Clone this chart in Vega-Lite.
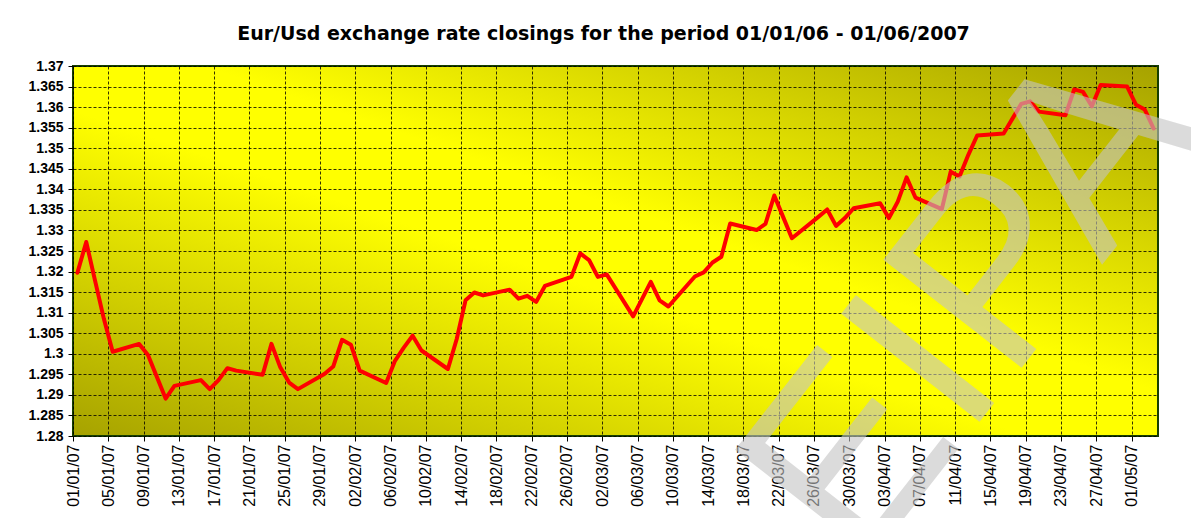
{
  "$schema": "https://vega.github.io/schema/vega-lite/v6.json",
  "autosize": "none",
  "width": 1085,
  "height": 370,
  "padding": {"left": 73, "top": 66, "right": 33, "bottom": 82},
  "background": "#ffffff",
  "title": {
    "text": "Eur/Usd exchange rate closings for the period 01/01/06 - 01/06/2007",
    "font": "DejaVu Sans",
    "fontSize": 19,
    "fontWeight": "bold",
    "color": "#000000",
    "anchor": "middle",
    "offset": -38,
    "dx": -12
  },
  "config": {
    "view": {
      "fill": {
        "gradient": "linear",
        "x1": 0, "y1": 1, "x2": 1, "y2": 0,
        "stops": [
          {"offset": 0, "color": "#a6a200"},
          {"offset": 0.44, "color": "#ffff00"},
          {"offset": 0.56, "color": "#ffff00"},
          {"offset": 1, "color": "#a6a200"}
        ]
      },
      "stroke": "#173f00",
      "strokeWidth": 2
    },
    "axis": {
      "labelFont": "Liberation Sans",
      "labelColor": "#000000",
      "labelOverlap": false,
      "labelFlush": false,
      "labelBound": false,
      "domain": false,
      "grid": true,
      "gridColor": "#000000",
      "gridDash": [3, 2],
      "gridWidth": 1,
      "gridOpacity": 0.8,
      "tickColor": "#000000",
      "tickSize": 5,
      "title": null
    }
  },
  "data": {
    "values": [
      {"date": "2007/01/01", "rate": 1.3197},
      {"date": "2007/01/02", "rate": 1.3272},
      {"date": "2007/01/03", "rate": 1.3178},
      {"date": "2007/01/04", "rate": 1.3085},
      {"date": "2007/01/05", "rate": 1.3005},
      {"date": "2007/01/08", "rate": 1.3024},
      {"date": "2007/01/09", "rate": 1.2997},
      {"date": "2007/01/10", "rate": 1.2944},
      {"date": "2007/01/11", "rate": 1.2891},
      {"date": "2007/01/12", "rate": 1.2922},
      {"date": "2007/01/15", "rate": 1.2936},
      {"date": "2007/01/16", "rate": 1.2914},
      {"date": "2007/01/17", "rate": 1.2936},
      {"date": "2007/01/18", "rate": 1.2965},
      {"date": "2007/01/19", "rate": 1.2959},
      {"date": "2007/01/22", "rate": 1.2949},
      {"date": "2007/01/23", "rate": 1.3024},
      {"date": "2007/01/24", "rate": 1.2967},
      {"date": "2007/01/25", "rate": 1.2930},
      {"date": "2007/01/26", "rate": 1.2914},
      {"date": "2007/01/29", "rate": 1.2951},
      {"date": "2007/01/30", "rate": 1.2969},
      {"date": "2007/01/31", "rate": 1.3034},
      {"date": "2007/02/01", "rate": 1.3022},
      {"date": "2007/02/02", "rate": 1.2959},
      {"date": "2007/02/05", "rate": 1.2929},
      {"date": "2007/02/06", "rate": 1.2983},
      {"date": "2007/02/07", "rate": 1.3015},
      {"date": "2007/02/08", "rate": 1.3044},
      {"date": "2007/02/09", "rate": 1.3008},
      {"date": "2007/02/12", "rate": 1.2963},
      {"date": "2007/02/13", "rate": 1.3036},
      {"date": "2007/02/14", "rate": 1.3130},
      {"date": "2007/02/15", "rate": 1.3149},
      {"date": "2007/02/16", "rate": 1.3142},
      {"date": "2007/02/19", "rate": 1.3156},
      {"date": "2007/02/20", "rate": 1.3134},
      {"date": "2007/02/21", "rate": 1.3141},
      {"date": "2007/02/22", "rate": 1.3126},
      {"date": "2007/02/23", "rate": 1.3165},
      {"date": "2007/02/26", "rate": 1.3187},
      {"date": "2007/02/27", "rate": 1.3244},
      {"date": "2007/02/28", "rate": 1.3228},
      {"date": "2007/03/01", "rate": 1.3187},
      {"date": "2007/03/02", "rate": 1.3193},
      {"date": "2007/03/05", "rate": 1.3091},
      {"date": "2007/03/06", "rate": 1.3133},
      {"date": "2007/03/07", "rate": 1.3175},
      {"date": "2007/03/08", "rate": 1.3130},
      {"date": "2007/03/09", "rate": 1.3115},
      {"date": "2007/03/12", "rate": 1.3188},
      {"date": "2007/03/13", "rate": 1.3198},
      {"date": "2007/03/14", "rate": 1.3222},
      {"date": "2007/03/15", "rate": 1.3236},
      {"date": "2007/03/16", "rate": 1.3317},
      {"date": "2007/03/19", "rate": 1.3301},
      {"date": "2007/03/20", "rate": 1.3316},
      {"date": "2007/03/21", "rate": 1.3385},
      {"date": "2007/03/22", "rate": 1.3333},
      {"date": "2007/03/23", "rate": 1.3281},
      {"date": "2007/03/26", "rate": 1.3333},
      {"date": "2007/03/27", "rate": 1.3351},
      {"date": "2007/03/28", "rate": 1.3311},
      {"date": "2007/03/29", "rate": 1.3330},
      {"date": "2007/03/30", "rate": 1.3354},
      {"date": "2007/04/02", "rate": 1.3366},
      {"date": "2007/04/03", "rate": 1.3330},
      {"date": "2007/04/04", "rate": 1.3370},
      {"date": "2007/04/05", "rate": 1.3429},
      {"date": "2007/04/06", "rate": 1.3380},
      {"date": "2007/04/09", "rate": 1.3352},
      {"date": "2007/04/10", "rate": 1.3443},
      {"date": "2007/04/11", "rate": 1.3431},
      {"date": "2007/04/12", "rate": 1.3484},
      {"date": "2007/04/13", "rate": 1.3531},
      {"date": "2007/04/16", "rate": 1.3536},
      {"date": "2007/04/17", "rate": 1.3572},
      {"date": "2007/04/18", "rate": 1.3608},
      {"date": "2007/04/19", "rate": 1.3614},
      {"date": "2007/04/20", "rate": 1.3589},
      {"date": "2007/04/23", "rate": 1.3580},
      {"date": "2007/04/24", "rate": 1.3643},
      {"date": "2007/04/25", "rate": 1.3637},
      {"date": "2007/04/26", "rate": 1.3602},
      {"date": "2007/04/27", "rate": 1.3654},
      {"date": "2007/04/30", "rate": 1.3650},
      {"date": "2007/05/01", "rate": 1.3606},
      {"date": "2007/05/02", "rate": 1.3594},
      {"date": "2007/05/03", "rate": 1.3548}
    ]
  },
  "layer": [
    {
      "mark": {"type": "line", "color": "#ff0000", "strokeWidth": 4, "strokeJoin": "round", "strokeCap": "round"},
      "encoding": {
        "x": {
          "field": "date",
          "type": "temporal",
          "timeUnit": "yearmonthdate",
          "bandPosition": 0.5,
          "scale": {
            "domain": [{"year": 2007, "month": 1, "date": 1}, {"year": 2007, "month": 5, "date": 4}],
            "nice": false
          },
          "axis": {
            "format": "%d/%m/%y",
            "labelAngle": 270,
            "labelFontSize": 16,
            "labelPadding": 3,
            "labelOverlap": false,
            "tickCount": 60,
            "values": [
              {"year": 2007, "month": 1, "date": 1},
              {"year": 2007, "month": 1, "date": 5},
              {"year": 2007, "month": 1, "date": 9},
              {"year": 2007, "month": 1, "date": 13},
              {"year": 2007, "month": 1, "date": 17},
              {"year": 2007, "month": 1, "date": 21},
              {"year": 2007, "month": 1, "date": 25},
              {"year": 2007, "month": 1, "date": 29},
              {"year": 2007, "month": 2, "date": 2},
              {"year": 2007, "month": 2, "date": 6},
              {"year": 2007, "month": 2, "date": 10},
              {"year": 2007, "month": 2, "date": 14},
              {"year": 2007, "month": 2, "date": 18},
              {"year": 2007, "month": 2, "date": 22},
              {"year": 2007, "month": 2, "date": 26},
              {"year": 2007, "month": 3, "date": 2},
              {"year": 2007, "month": 3, "date": 6},
              {"year": 2007, "month": 3, "date": 10},
              {"year": 2007, "month": 3, "date": 14},
              {"year": 2007, "month": 3, "date": 18},
              {"year": 2007, "month": 3, "date": 22},
              {"year": 2007, "month": 3, "date": 26},
              {"year": 2007, "month": 3, "date": 30},
              {"year": 2007, "month": 4, "date": 3},
              {"year": 2007, "month": 4, "date": 7},
              {"year": 2007, "month": 4, "date": 11},
              {"year": 2007, "month": 4, "date": 15},
              {"year": 2007, "month": 4, "date": 19},
              {"year": 2007, "month": 4, "date": 23},
              {"year": 2007, "month": 4, "date": 27},
              {"year": 2007, "month": 5, "date": 1}
            ]
          }
        },
        "y": {
          "field": "rate",
          "type": "quantitative",
          "scale": {"domain": [1.28, 1.37], "nice": false, "zero": false},
          "axis": {
            "format": ".3~f",
            "labelFontSize": 14,
            "labelFontWeight": "bold",
            "labelPadding": 5,
            "labelOverlap": false,
            "tickCount": 40,
            "values": [1.28, 1.285, 1.29, 1.295, 1.3, 1.305, 1.31, 1.315, 1.32, 1.325, 1.33, 1.335, 1.34, 1.345, 1.35, 1.355, 1.36, 1.365, 1.37]
          }
        }
      }
    },
    {
      "data": {"values": [{"mark": "EIPA"}]},
      "mark": {
        "type": "text",
        "font": "Liberation Sans",
        "fontWeight": "normal",
        "fontSize": 255,
        "angle": -52,
        "align": "center",
        "baseline": "middle",
        "fill": "#c4c4c4",
        "opacity": 0.6
      },
      "encoding": {
        "text": {"field": "mark"},
        "x": {"datum": {"year": 2007, "month": 4, "date": 13}, "type": "temporal", "axis": {"labelOverlap": false, "tickCount": 60}},
        "y": {"datum": 1.3118, "type": "quantitative", "axis": {"labelOverlap": false, "tickCount": 40}}
      }
    }
  ]
}
